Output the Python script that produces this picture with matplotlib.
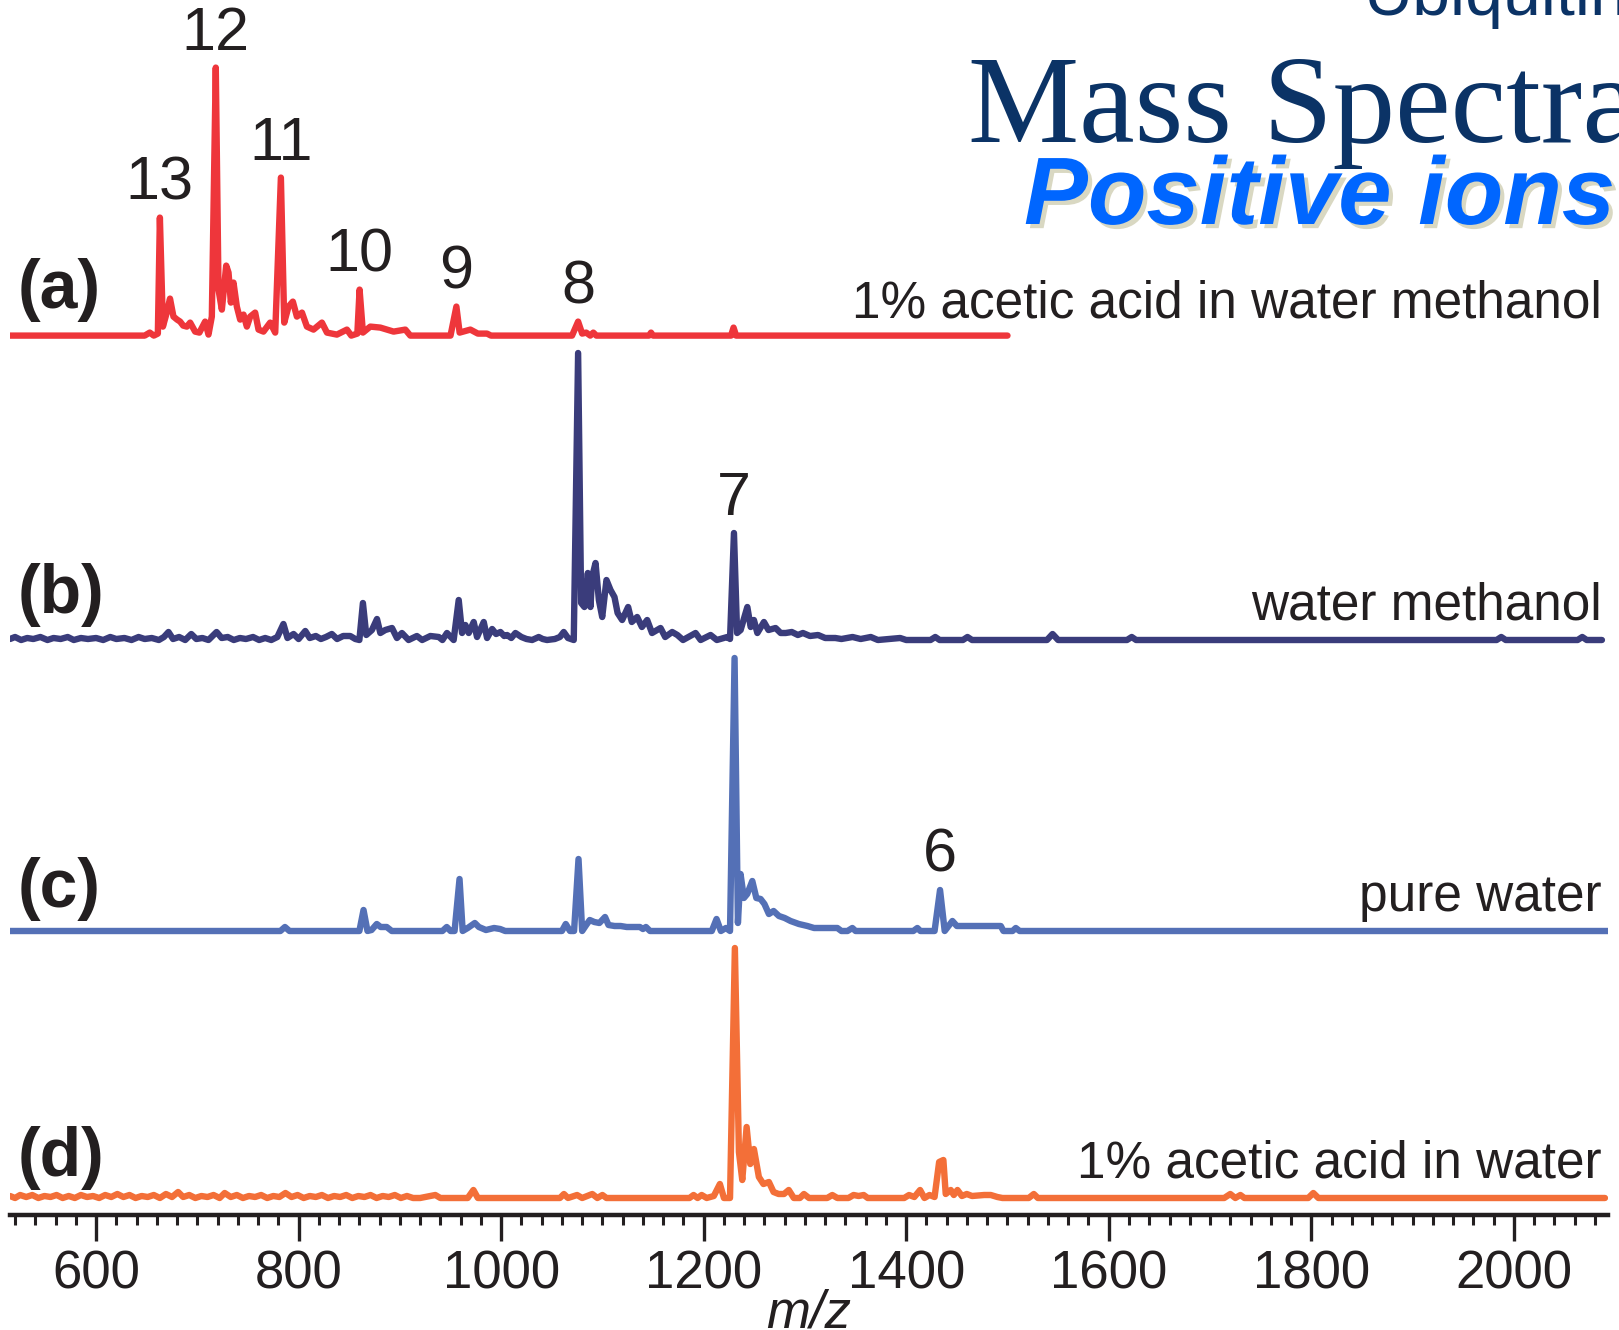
import numpy as np
import matplotlib
matplotlib.use("Agg")
from matplotlib import pyplot as plt
import matplotlib.patheffects as pe
from matplotlib.ticker import MultipleLocator

plt.rcParams['font.family'] = ['Liberation Sans', 'DejaVu Sans']

# ---- data: m/z and relative intensity (a.u.) ----
mz_a = [515, 648, 653, 657, 661, 663, 666, 669.8, 673, 676.4, 680, 683, 686, 689.6, 692.9, 697.8, 702,
        707.7, 711, 714.3, 718.2, 720.9, 724.2, 728.5, 730.8, 733.1, 735.7, 739, 742.3, 745.6, 748.9,
        752.2, 757.1, 760.4, 765.3, 771.9, 776.9, 782.5, 785.8, 790, 794.3, 798.3, 803.3, 808.2, 814.7,
        823, 828, 837.8, 847.7, 852, 858, 860.2, 863.5, 870.8, 880.7, 893.8, 905.4, 910.3, 950, 955.8,
        959, 969.6, 977, 986, 990, 1070, 1076, 1080, 1084, 1088, 1091, 1094, 1146, 1148, 1150, 1227,
        1229.5, 1232, 1500]
int_a = [0, 0, 3, 0, 2, 118, 9, 23, 37, 19, 16, 14, 10, 9, 13, 4, 3,
         14, 1, 19, 268, 46, 26, 70, 63, 33, 53, 29, 16, 21, 9,
         19, 23, 6, 4, 13, 3, 158, 13, 29, 34, 19, 23, 9, 6,
         13, 3, 1, 6, 0, 2, 46, 3, 9, 8, 4, 6, 0, 0, 29,
         3, 6, 2, 2, 0, 0, 14, 2, 3, 0, 3, 0, 0, 3, 0, 0,
         8, 0, 0]

mz_b = [515, 520, 526, 532, 538, 545, 552, 558, 565, 572, 578, 585, 592, 600, 607, 614, 620, 628, 635,
        642, 648, 655, 662, 667, 671.5, 676, 682, 688, 694, 699, 705, 711, 719, 724, 730, 736, 742, 748,
        755, 761, 767, 773, 779, 785, 789, 795, 800, 806.6, 811, 817, 822, 827, 832.8, 838, 844, 851,
        856, 860, 863.5, 866.8, 872.4, 877.4, 880.7, 885.6, 892.2, 897.1, 902, 908.6, 916.8, 922, 930.1,
        938.4, 942, 946.5, 953.1, 958.1, 961.4, 964.7, 968, 972.9, 976.2, 982.8, 986.1, 991.1, 995,
        999.3, 1003, 1005.9, 1010, 1014.1, 1020, 1025, 1030.6, 1037.1, 1041, 1045.3, 1053, 1058, 1061.8,
        1066, 1071.7, 1076, 1079, 1082.2, 1085.6, 1088.2, 1089.8, 1093.2, 1096.5, 1099.8, 1104, 1108,
        1111.9, 1115, 1119.5, 1125.4, 1129, 1134.3, 1139, 1144.2, 1149, 1157.4, 1162, 1168.9, 1174,
        1179.6, 1192, 1197, 1206.8, 1213, 1223.3, 1226, 1229.9, 1233, 1236.5, 1243.1, 1246.4, 1249.6,
        1253, 1259.5, 1264, 1271, 1276, 1281, 1287, 1293, 1298, 1305, 1313, 1320, 1330, 1336, 1347,
        1355, 1365, 1372, 1394, 1400, 1424, 1428.7, 1433, 1456, 1460.5, 1465, 1539, 1544.5, 1550, 1618,
        1622.7, 1627, 1983, 1987.6, 1992, 2063, 2067.6, 2072, 2087]
int_b = [1, 3, 0, 2, 1, 3, 0, 2, 1, 3, 0, 2, 1, 2, 0, 3, 1, 2, 0,
         3, 1, 2, 0, 3, 8, 1, 3, 0, 6, 1, 2, 0, 8, 2, 3, 0, 2, 1,
         3, 0, 2, 0, 3, 16, 2, 6, 1, 9, 2, 4, 1, 3, 6, 1, 4, 4,
         1, 0, 37, 5, 10, 21, 7, 10, 12, 2, 7, 0, 4, 0, 4,
         3, 0, 7, 0, 40, 7, 15, 7, 18, 3, 18, 2, 11, 6,
         8, 4, 5, 2, 7, 3, 1, 0, 3, 1, 0, 1, 3, 8,
         2, 0, 287, 37, 33, 67, 33, 63, 77, 40, 23, 60, 50,
         43, 27, 20, 33, 18, 23, 13, 20, 7, 12, 3, 8, 5,
         0, 7, 0, 5, 0, 3, 1, 107, 7, 10, 33, 13, 20,
         7, 18, 10, 12, 7, 7, 8, 5, 7, 4, 5, 2, 2, 1, 3,
         1, 3, 0, 2, 0, 0, 3, 0, 0, 3, 0, 0, 6, 0, 0,
         3, 0, 0, 3, 0, 0, 3, 0, 0]

mz_c = [515, 782, 786.5, 791, 860, 864.1, 868, 872, 877.2, 881, 887, 892, 942, 946.3, 950, 954, 958.9,
        962, 967, 974, 978, 985, 993, 999, 1004, 1060, 1063.8, 1068, 1072, 1076.4, 1080, 1084, 1087.5,
        1092, 1097, 1102.6, 1106, 1112, 1118, 1124, 1131, 1137, 1140, 1143, 1147, 1208, 1212.7, 1217,
        1222, 1226, 1230.5, 1233.8, 1236.4, 1239.7, 1243, 1248, 1252, 1256.2, 1260, 1264.4, 1269,
        1274.3, 1280, 1285.8, 1294, 1302.4, 1309, 1325, 1332, 1336, 1342, 1346.8, 1350, 1407, 1411,
        1414, 1428, 1433.4, 1438, 1445.6, 1450, 1463.8, 1472, 1486, 1493.4, 1496, 1505, 1508.2, 1512,
        2093]
int_c = [0, 0, 4, 0, 0, 21, 0, 1, 7, 4, 4, 0, 0, 4, 0, 0, 52,
         0, 3, 8, 4, 1, 3, 2, 0, 0, 7, 0, 0, 72, 0, 6, 11,
         9, 8, 14, 6, 5, 5, 4, 4, 4, 2, 4, 0, 0, 12, 0,
         3, 0, 273, 8, 57, 33, 37, 50, 33, 32, 27, 17, 20,
         15, 13, 10, 7, 5, 3, 3, 3, 0, 0, 3, 0, 0, 3,
         0, 0, 41, 0, 10, 5, 5, 5, 5, 5, 0, 0, 3, 0,
         0]

mz_d = [515, 520, 525, 531, 537, 543, 549, 555, 561, 567, 573, 579, 585, 591, 597, 603, 609, 615, 621,
        627, 633, 639, 645, 651, 657, 663, 669, 675, 681, 686, 692, 698, 704, 710, 716, 722, 727, 733,
        739, 745, 751, 757, 763, 769, 775, 781, 787, 793, 799, 805, 811, 817, 823, 829, 835, 841, 847,
        853, 859, 865, 871, 877, 883, 889, 895, 901, 907, 913, 920, 935, 940, 967, 972.6, 977, 1058,
        1062, 1066, 1075, 1080, 1090, 1095, 1100, 1104, 1186, 1190, 1194, 1198, 1203, 1210, 1216, 1220,
        1226, 1230.8, 1234.8, 1238.1, 1242.4, 1246, 1249.6, 1254.5, 1259, 1264.4, 1269, 1274, 1279.3,
        1284, 1289, 1295, 1299, 1304, 1322, 1327, 1332, 1343, 1348, 1353, 1358, 1362, 1398, 1402.8,
        1408, 1413.7, 1418, 1423, 1428, 1432.5, 1436.7, 1439, 1444, 1447, 1450.6, 1455, 1459.8, 1465,
        1477, 1483.5, 1490, 1495, 1521, 1526, 1530, 1714, 1720, 1725, 1730, 1734, 1797, 1802, 1807, 2090]
int_d = [2, 0, 3, 1, 3, 0, 2, 1, 3, 0, 2, 0, 3, 1, 2, 0, 3, 1, 4,
         1, 3, 0, 2, 1, 3, 0, 4, 1, 6, 1, 3, 0, 2, 1, 3, 0, 5, 1,
         3, 0, 2, 1, 3, 0, 2, 1, 5, 1, 3, 0, 2, 1, 3, 0, 2, 1, 3,
         0, 2, 1, 3, 0, 2, 1, 3, 0, 2, 0, 0, 3, 0, 0, 8, 0, 0,
         4, 0, 3, 0, 4, 0, 3, 0, 0, 3, 0, 3, 0, 2, 14, 0,
         0, 250, 46, 18, 71, 34, 49, 21, 14, 16, 6, 4, 4,
         8, 0, 0, 4, 0, 0, 3, 0, 0, 3, 2, 3, 0, 0, 3,
         1, 8, 0, 3, 1, 36, 38, 4, 8, 3, 8, 2, 4, 2,
         3, 3, 1, 0, 0, 4, 0, 0, 4, 0, 3, 0, 0, 5, 0, 0]

panels = ["(a)", "(b)", "(c)", "(d)"]
conditions = ["1% acetic acid in water methanol", "water methanol", "pure water", "1% acetic acid in water"]
colors = ["#EE363B", "#3A3C7B", "#5470B6", "#F36F38"]
offsets = [879.4, 575, 284, 17]   # vertical stacking of the traces

# charge state labels: (trace index, charge, m/z of peak)
charge_trace = [0, 0, 0, 0, 0, 0, 1, 2]
charge_z = [13, 12, 11, 10, 9, 8, 7, 6]
charge_mz = [663, 718.2, 782.5, 860.2, 955.8, 1076, 1229.9, 1433.4]

mz_all = [mz_a, mz_b, mz_c, mz_d]
int_all = [int_a, int_b, int_c, int_d]

W, H = 1619, 1330
TXT = "#231F20"

fig = plt.figure(figsize=(W / 100, H / 100), dpi=100)
ax = fig.add_axes([10 / W, 1 - 1215 / H, 1598 / W, 1215 / H])

for mz, inten, off, col in zip(mz_all, int_all, offsets, colors):
    ax.plot(mz, np.array(inten) + off, color=col, lw=4.6, solid_joinstyle='round',
            solid_capstyle='round', zorder=2)

for ti, z, m in zip(charge_trace, charge_z, charge_mz):
    y = np.interp(m, mz_all[ti], int_all[ti]) + offsets[ti]
    ax.annotate(str(z), xy=(m, y), xytext=(0, 13), textcoords='offset points',
                ha='center', va='baseline', fontsize=44, color=TXT)

ax.set_xlim(515, 2093)
ax.set_ylim(0, 1215)
ax.set_yticks([])
for s in ['top', 'right', 'left']:
    ax.spines[s].set_visible(False)
ax.spines['bottom'].set_linewidth(3.2)
ax.spines['bottom'].set_color(TXT)
ax.xaxis.set_major_locator(MultipleLocator(200))
ax.xaxis.set_minor_locator(MultipleLocator(20))
ax.tick_params(axis='x', which='major', length=19, width=2.4, pad=6, labelsize=38,
               color=TXT, labelcolor=TXT)
ax.tick_params(axis='x', which='minor', length=7, width=2.2, color=TXT)
ax.set_xlabel('m/z', style='italic', fontsize=38, labelpad=-8, color=TXT)
ax.patch.set_visible(False)

# panel letters and conditions (figure pixel positions of baselines)
panel_y = [308, 613, 907, 1176]
cond_y = [318, 620, 911, 1177]
for lab, py in zip(panels, panel_y):
    fig.text(18 / W, 1 - py / H, lab, fontsize=49, fontweight='bold', color=TXT,
             ha='left', va='baseline')
for lab, py in zip(conditions, cond_y):
    fig.text(1602 / W, 1 - py / H, lab, fontsize=37, color=TXT, ha='right', va='baseline')

# title block, top right (partly off the canvas)
fig.text(1364 / W, 1 - 15 / H, "Ubiquitin", fontsize=49, color="#0B3366", ha='left', va='baseline')
fig.text(968 / W, 1 - 142 / H, "Mass Spectra", fontsize=90, color="#0B3366",
         family=['Liberation Serif', 'DejaVu Serif'], ha='left', va='baseline')
fig.text(1024 / W, 1 - 224 / H, "Positive ions", fontsize=69, color="#0066FF",
         fontweight='bold', style='italic', ha='left', va='baseline',
         path_effects=[pe.withSimplePatchShadow(offset=(3, -3), shadow_rgbFace='#D9D8C2', alpha=1.0)])

fig.savefig("out.png", dpi=100)
